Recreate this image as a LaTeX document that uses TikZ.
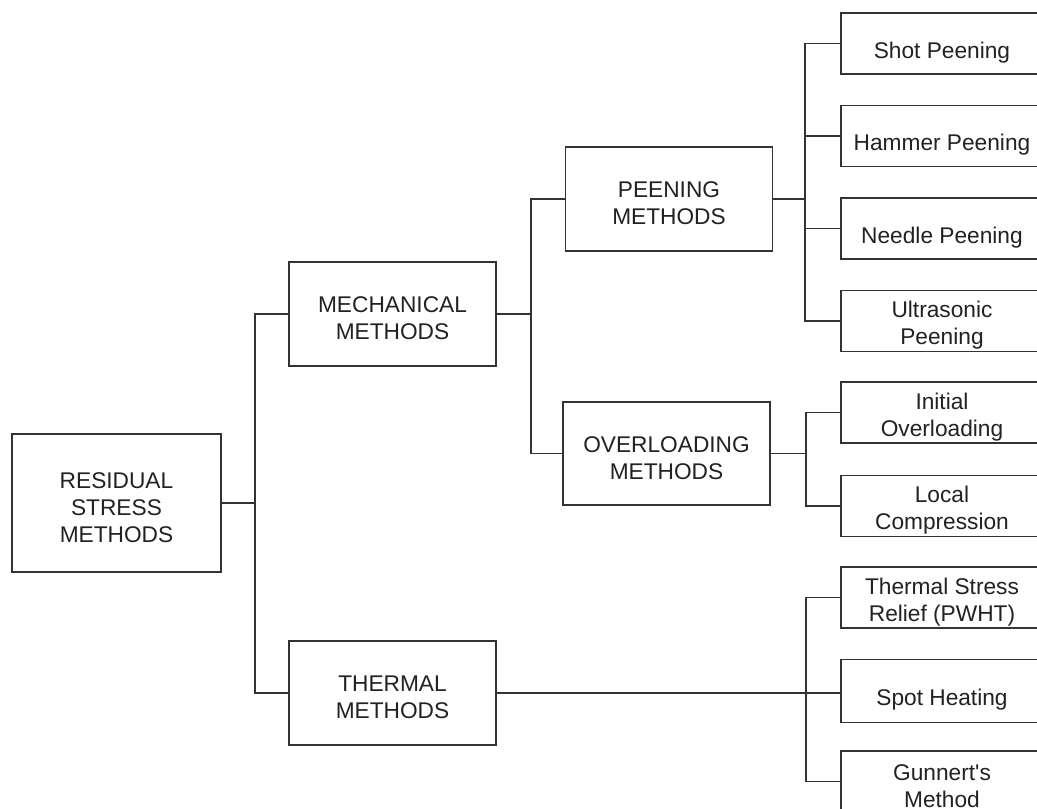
\documentclass[tikz,border=0pt]{standalone}
\usepackage{fontspec}
\newfontfamily\arialx{Liberation Sans}
\definecolor{ln}{HTML}{333333}
\definecolor{tx}{HTML}{222222}
\newcommand\upa{\rule{0pt}{25pt}}
\newcommand\upb{\rule{0pt}{34pt}}
\begin{document}
\begin{tikzpicture}[x=1pt,y=-1pt,
  box/.style={draw=ln, line width=1.5pt, fill=white, text=tx, align=center,
    font=\arialx\fontsize{22.7}{27}\selectfont, inner sep=0pt},
  bigbox/.style={box, minimum width=207pt, minimum height=104pt},
  leaf/.style={box, minimum width=202pt, minimum height=61pt},
  conn/.style={draw=ln, line width=1.5pt}]
\useasboundingbox (0,0) rectangle (1037,809);
\fill[white] (0,0) rectangle (1037,809);

\node[box, minimum width=209pt, minimum height=138pt] (root) at (116.5,503) {\upa RESIDUAL\\STRESS\\METHODS};
\node[bigbox] (mech) at (392.5,314) {\upa MECHANICAL\\METHODS};
\node[bigbox] (therm) at (392.5,693) {\upa THERMAL\\METHODS};
\node[bigbox] (peen) at (669,199) {\upa PEENING\\METHODS};
\node[bigbox, minimum height=103pt] (over) at (666.5,453.5) {\upa OVERLOADING\\METHODS};

\node[leaf] (shot) at (942,43.5) {\upb Shot Peening};
\node[leaf] (hammer) at (942,136) {\upb Hammer Peening};
\node[leaf] (needle) at (942,228.5) {\upb Needle Peening};
\node[leaf] (ultra) at (942,321) {\upa Ultrasonic\\Peening};
\node[leaf] (init) at (942,412.5) {\upa Initial\\Overloading};
\node[leaf] (local) at (942,506) {\upa Local\\Compression};
\node[leaf] (tsr) at (942,597.5) {\upa Thermal Stress\\Relief (PWHT)};
\node[leaf, minimum height=63pt] (spot) at (942,691) {\upb Spot Heating};
\node[leaf] (gun) at (942,781.5) {\upa Gunnert's\\Method};

\coordinate (j1) at (255,0);
\coordinate (j2) at (531,0);
\coordinate (j3) at (805,0);
\coordinate (j4) at (806,0);

\draw[conn] (root.east) -- (root.east -| j1);
\draw[conn] (root.east -| j1) |- (mech.west);
\draw[conn] (root.east -| j1) |- (therm.west);

\draw[conn] (mech.east) -- (mech.east -| j2);
\draw[conn] (mech.east -| j2) |- (peen.west);
\draw[conn] (mech.east -| j2) |- (over.west);

\draw[conn] (peen.east) -- (peen.east -| j3);
\draw[conn] (peen.east -| j3) |- (shot.west);
\draw[conn] (peen.east -| j3) |- (hammer.west);
\draw[conn] (peen.east -| j3) |- (needle.west);
\draw[conn] (peen.east -| j3) |- (ultra.west);

\draw[conn] (over.east) -- (over.east -| j4);
\draw[conn] (over.east -| j4) |- (init.west);
\draw[conn] (over.east -| j4) |- (local.west);

\draw[conn] (therm.east) -- (therm.east -| spot.west);
\draw[conn] (therm.east -| j4) |- (tsr.west);
\draw[conn] (therm.east -| j4) |- (gun.west);
\end{tikzpicture}
\end{document}
